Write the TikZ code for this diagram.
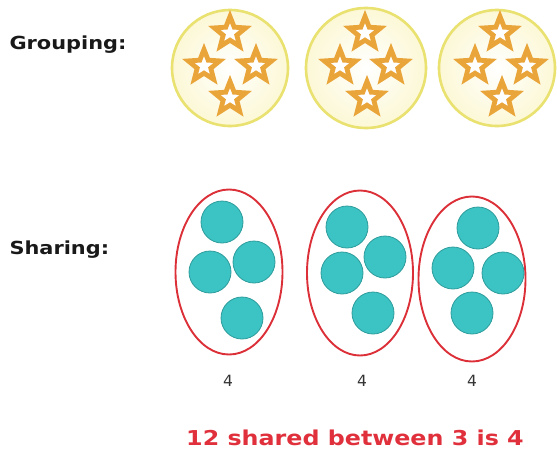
\documentclass[tikz,border=0pt]{standalone}
\usepackage{fontspec}
\setmainfont{DejaVu Sans}
\newfontfamily\widefont[FakeStretch=1.16]{DejaVu Sans}
\usetikzlibrary{shapes.geometric}
\definecolor{ringyellow}{HTML}{E9E170}
\definecolor{discfill}{HTML}{FCF8D6}
\definecolor{starorange}{HTML}{E9A43A}
\definecolor{tealfill}{HTML}{3CC3C3}
\definecolor{tealline}{HTML}{2E9C9C}
\definecolor{ovalred}{HTML}{DC3038}
\definecolor{textred}{HTML}{E0303C}
\begin{document}
\begin{tikzpicture}[x=1pt,y=-1pt,
  disc/.style={circle,draw=ringyellow,line width=2.6pt,minimum size=116pt,inner sep=0pt,
    shading=radial,inner color=white,outer color=discfill},
  hstar/.style={star,star points=5,star point ratio=2.3,draw=starorange,line width=4.8pt,
    fill=white,minimum size=33pt,inner sep=0pt,line join=miter},
  oval/.style={ellipse,draw=ovalred,line width=1.9pt,inner sep=0pt},
  dot/.style={circle,fill=tealfill,draw=tealline,line width=0.8pt,minimum size=42pt,inner sep=0pt},
  lab/.style={font=\widefont\fontsize{18}{21}\selectfont\bfseries,text=black!90,anchor=west},
  num/.style={font=\fontsize{15.5}{18}\selectfont,text=black!80}]
\useasboundingbox (0,0) rectangle (557,459);
% labels
\node[lab] (tg) at (6,45) {Grouping:};
\node[lab] (ts) at (6,250) {Sharing:};
% grouping discs
\node[disc] (c1) at (230,68) {};
\node[disc,minimum size=120pt] (c2) at (366,68) {};
\node[disc] (c3) at (497,68) {};
\foreach \n/\x/\y in {a/230/33,b/204/66,c/256/66,d/230/98}
  \node[hstar] (s1\n) at (\x,\y) {};
\foreach \n/\x/\y in {a/365/33,b/340/66,c/391/66,d/367/98}
  \node[hstar] (s2\n) at (\x,\y) {};
\foreach \n/\x/\y in {a/500/33,b/475/66,c/527/66,d/502/98}
  \node[hstar] (s3\n) at (\x,\y) {};
% sharing ovals
\node[oval,minimum width=107pt,minimum height=165pt] (e1) at (229,272) {};
\node[oval,minimum width=106pt,minimum height=165pt] (e2) at (360,273) {};
\node[oval,minimum width=107pt,minimum height=165pt] (e3) at (472,279) {};
\foreach \n/\x/\y in {a/222/222,b/210/272,c/254/262,d/242/318}
  \node[dot] (d1\n) at (\x,\y) {};
\foreach \n/\x/\y in {a/347/227,b/385/257,c/342/273,d/373/313}
  \node[dot] (d2\n) at (\x,\y) {};
\foreach \n/\x/\y in {a/478/228,b/453/268,c/503/273,d/472/313}
  \node[dot] (d3\n) at (\x,\y) {};
\node[num] (n1) at (228,381) {4};
\node[num] (n2) at (362,381) {4};
\node[num] (n3) at (472,381) {4};
\node[font=\widefont\fontsize{20.5}{23}\selectfont\bfseries,text=textred] (res) at (355,438) {12 shared between 3 is 4};
\end{tikzpicture}
\end{document}
